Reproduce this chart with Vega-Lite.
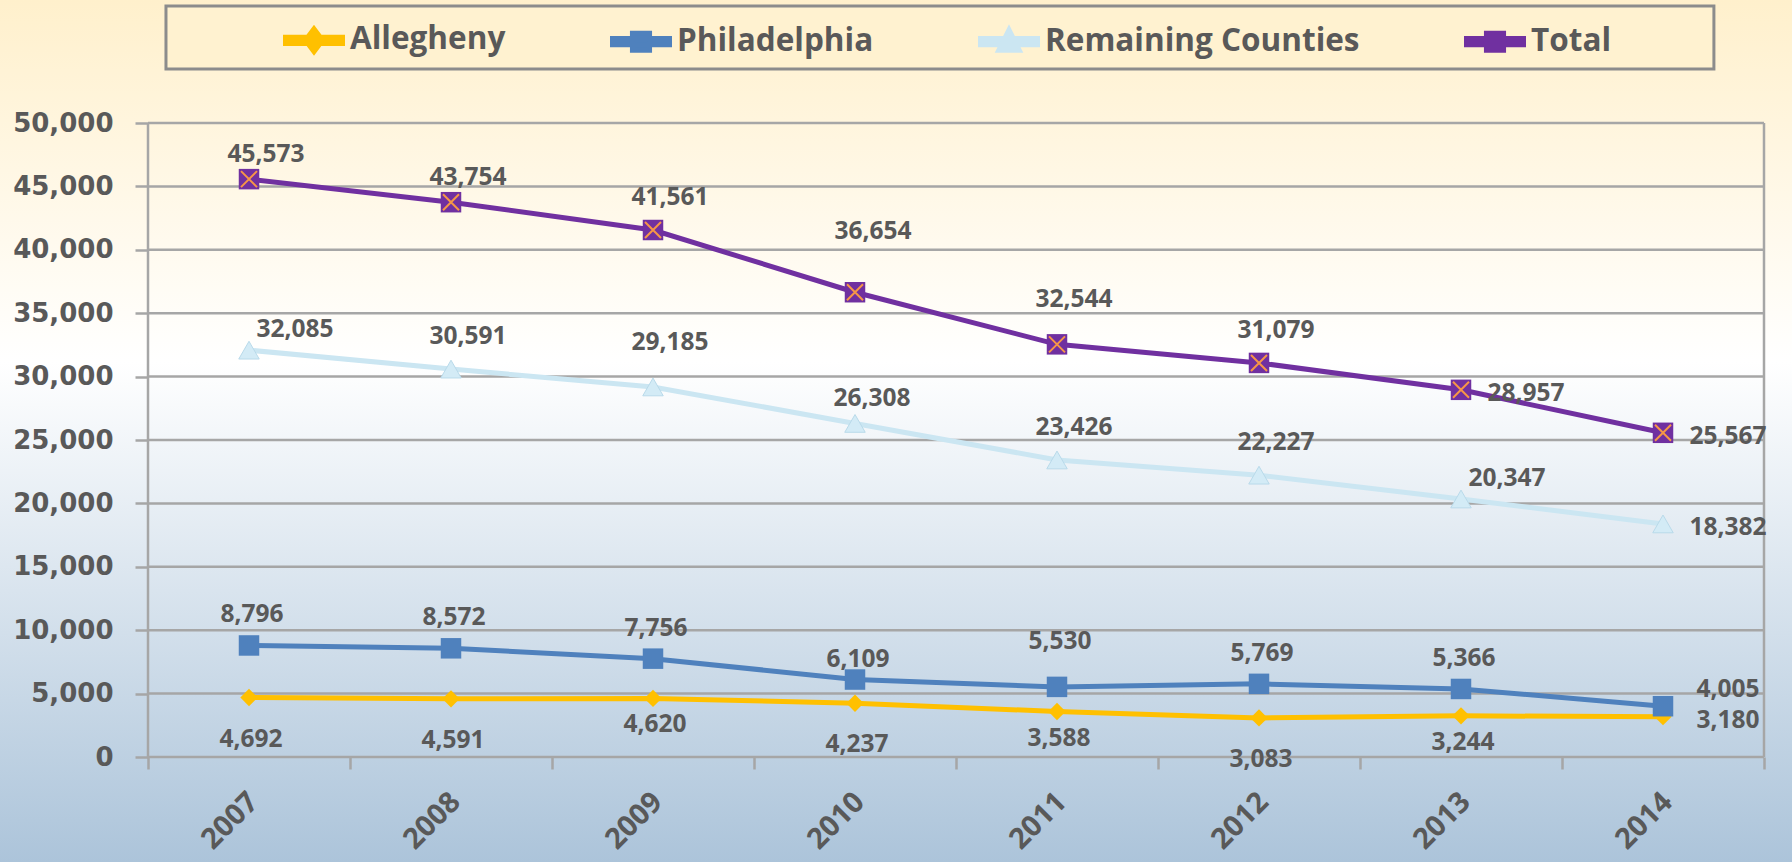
{
  "$schema": "https://vega.github.io/schema/vega-lite/v6.json",
  "width": 1616,
  "height": 634,
  "autosize": {"type": "none"},
  "padding": {"left": 148, "top": 123, "right": 28, "bottom": 105},
  "background": "#FFFFFF",
  "config": {
    "font": "Open Sans",
    "view": {"stroke": null}
  },
  "datasets": {
    "counts": [
      {"series": "Allegheny", "year": 2007, "value": 4692},
      {"series": "Allegheny", "year": 2008, "value": 4591},
      {"series": "Allegheny", "year": 2009, "value": 4620},
      {"series": "Allegheny", "year": 2010, "value": 4237},
      {"series": "Allegheny", "year": 2011, "value": 3588},
      {"series": "Allegheny", "year": 2012, "value": 3083},
      {"series": "Allegheny", "year": 2013, "value": 3244},
      {"series": "Allegheny", "year": 2014, "value": 3180},
      {"series": "Philadelphia", "year": 2007, "value": 8796},
      {"series": "Philadelphia", "year": 2008, "value": 8572},
      {"series": "Philadelphia", "year": 2009, "value": 7756},
      {"series": "Philadelphia", "year": 2010, "value": 6109},
      {"series": "Philadelphia", "year": 2011, "value": 5530},
      {"series": "Philadelphia", "year": 2012, "value": 5769},
      {"series": "Philadelphia", "year": 2013, "value": 5366},
      {"series": "Philadelphia", "year": 2014, "value": 4005},
      {"series": "Remaining Counties", "year": 2007, "value": 32085},
      {"series": "Remaining Counties", "year": 2008, "value": 30591},
      {"series": "Remaining Counties", "year": 2009, "value": 29185},
      {"series": "Remaining Counties", "year": 2010, "value": 26308},
      {"series": "Remaining Counties", "year": 2011, "value": 23426},
      {"series": "Remaining Counties", "year": 2012, "value": 22227},
      {"series": "Remaining Counties", "year": 2013, "value": 20347},
      {"series": "Remaining Counties", "year": 2014, "value": 18382},
      {"series": "Total", "year": 2007, "value": 45573},
      {"series": "Total", "year": 2008, "value": 43754},
      {"series": "Total", "year": 2009, "value": 41561},
      {"series": "Total", "year": 2010, "value": 36654},
      {"series": "Total", "year": 2011, "value": 32544},
      {"series": "Total", "year": 2012, "value": 31079},
      {"series": "Total", "year": 2013, "value": 28957},
      {"series": "Total", "year": 2014, "value": 25567}
    ],
    "gridlines": [
      {"g": 0}, {"g": 5000}, {"g": 10000}, {"g": 15000}, {"g": 20000}, {"g": 25000},
      {"g": 30000}, {"g": 35000}, {"g": 40000}, {"g": 45000}, {"g": 50000}
    ]
  },
  "layer": [
    {
      "data": {"values": [{}]},
      "mark": {
        "type": "rect",
        "fill": {
          "gradient": "linear", "x1": 0, "y1": 0, "x2": 0, "y2": 1,
          "stops": [
            {"offset": 0, "color": "#FFF0CC"},
            {"offset": 0.42, "color": "#FFFFFF"},
            {"offset": 1, "color": "#ACC4DA"}
          ]
        }
      },
      "encoding": {
        "x": {"datum": 2005.76, "type": "quantitative", "scale": {"domain": [2006.5, 2014.5], "nice": false, "zero": false}},
        "x2": {"datum": 2014.65},
        "y": {"datum": 59700, "type": "quantitative", "scale": {"domain": [0, 50000], "nice": false, "zero": true}},
        "y2": {"datum": -8281}
      }
    },
    {
      "data": {"values": [{}]},
      "mark": {"type": "rect", "fill": "#FFF2D0", "stroke": "#8C8C8C", "strokeWidth": 3},
      "encoding": {
        "x": {"datum": 2006.589, "type": "quantitative"},
        "x2": {"datum": 2014.252},
        "y": {"datum": 59227, "type": "quantitative"},
        "y2": {"datum": 54259}
      }
    },
    {
      "data": {"name": "gridlines"},
      "mark": {"type": "rule", "stroke": "#A6A6A6", "strokeWidth": 2.5},
      "encoding": {
        "x": {"datum": 2006.5, "type": "quantitative"},
        "x2": {"datum": 2014.5},
        "y": {"field": "g", "type": "quantitative"}
      }
    },
    {
      "data": {"values": [{}]},
      "mark": {"type": "rule", "stroke": "#A6A6A6", "strokeWidth": 2.5},
      "encoding": {
        "x": {"datum": 2014.5, "type": "quantitative"},
        "y": {"datum": 0, "type": "quantitative"},
        "y2": {"datum": 50000}
      }
    },
    {
      "data": {"values": [{}]},
      "mark": {"type": "rule", "stroke": "#A6A6A6", "strokeWidth": 2.5},
      "encoding": {
        "x": {"datum": 2006.5, "type": "quantitative"},
        "y": {"datum": 0, "type": "quantitative"},
        "y2": {"datum": 50000}
      }
    },
    {
      "data": {"name": "counts"},
      "mark": {"type": "line"},
      "encoding": {
        "x": {
          "field": "year", "type": "quantitative",
          "axis": {
            "zindex": 1,
            "values": [2006.5, 2007.5, 2008.5, 2009.5, 2010.5, 2011.5, 2012.5, 2013.5, 2014.5],
            "labelExpr": "datum.value > 2014 ? '' : toString(datum.value + 0.5)",
            "labelAngle": -45, "labelAlign": "right", "labelBaseline": "middle",
            "labelOffset": 105, "labelPadding": 28,
            "tickSize": 12, "tickColor": "#A6A6A6", "tickWidth": 2.5,
            "grid": false, "domain": false,
            "labelFont": "Open Sans", "labelFontWeight": "bold", "labelFontSize": 29, "labelColor": "#595959",
            "labelOverlap": false, "labelBound": false, "labelFlush": false,
            "title": null
          }
        },
        "y": {
          "field": "value", "type": "quantitative",
          "axis": {
            "zindex": 1,
            "values": [0, 5000, 10000, 15000, 20000, 25000, 30000, 35000, 40000, 45000, 50000],
            "format": ",d",
            "grid": false, "domain": false,
            "tickSize": 13, "tickColor": "#A6A6A6", "tickWidth": 2.5,
            "labelPadding": 22,
            "labelFont": "DejaVu Sans", "labelFontWeight": "bold", "labelFontSize": 26, "labelColor": "#595959",
            "labelOverlap": false, "labelFlush": false,
            "title": null
          }
        },
        "strokeWidth": {
          "field": "series", "type": "nominal", "legend": null,
          "scale": {"domain": ["Allegheny", "Philadelphia", "Remaining Counties", "Total"], "range": [5, 5, 6.5, 5]}
        },
        "color": {
          "field": "series", "type": "nominal",
          "scale": {"domain": ["Allegheny", "Philadelphia", "Remaining Counties", "Total"], "range": ["#FFC000", "#4F81BD", "#CBE6F2", "#7030A0"]},
          "legend": {
            "orient": "none", "legendX": 135, "legendY": -114,
            "direction": "horizontal", "columns": 4, "title": null, "padding": 0,
            "columnPadding": 96,
            "labelFont": "Open Sans", "labelFontWeight": "bold", "labelFontSize": 31.5, "labelColor": "#595959",
            "labelOffset": 5, "labelLimit": 500, "labelBaseline": "middle",
            "symbolSize": 3249,
            "encoding": {
              "symbols": {
                "shape": {"value": {"expr": "datum.value === 'Allegheny' ? 'M-1,-0.11H1V0.11H-1Z M0,-0.4L0.3,0L0,0.4L-0.3,0Z' : datum.value === 'Remaining Counties' ? 'M-1,-0.11H1V0.11H-1Z M0,-0.42L0.36,0.3L-0.36,0.3Z' : 'M-1,-0.11H1V0.11H-1Z M-0.3,-0.3H0.3V0.3H-0.3Z'"}},
                "fill": {"value": {"expr": "scale('color', datum.value)"}},
                "stroke": {"value": {"expr": "scale('color', datum.value)"}},
                "strokeWidth": {"value": 0.5},
                "opacity": {"value": 1},
                "fillOpacity": {"value": 1}
              }
            }
          }
        }
      }
    },
    {
      "data": {"name": "counts"},
      "transform": [{"filter": "datum.series === 'Allegheny'"}],
      "mark": {"type": "point", "shape": "diamond", "filled": true, "fill": "#FFC000", "size": 300, "opacity": 1},
      "encoding": {
        "x": {"field": "year", "type": "quantitative"},
        "y": {"field": "value", "type": "quantitative"}
      }
    },
    {
      "data": {"name": "counts"},
      "transform": [{"filter": "datum.series === 'Philadelphia'"}],
      "mark": {"type": "point", "shape": "square", "filled": true, "fill": "#4F81BD", "size": 420, "opacity": 1},
      "encoding": {
        "x": {"field": "year", "type": "quantitative"},
        "y": {"field": "value", "type": "quantitative"}
      }
    },
    {
      "data": {"name": "counts"},
      "transform": [{"filter": "datum.series === 'Remaining Counties'"}],
      "mark": {"type": "point", "shape": "triangle-up", "filled": true, "fill": "#D3EBF6", "stroke": "#B9DAEA", "strokeWidth": 1, "size": 420, "opacity": 1},
      "encoding": {
        "x": {"field": "year", "type": "quantitative"},
        "y": {"field": "value", "type": "quantitative"}
      }
    },
    {
      "data": {"name": "counts"},
      "transform": [{"filter": "datum.series === 'Total'"}],
      "mark": {"type": "point", "shape": "square", "filled": true, "fill": "#7030A0", "size": 420, "opacity": 1},
      "encoding": {
        "x": {"field": "year", "type": "quantitative"},
        "y": {"field": "value", "type": "quantitative"}
      }
    },
    {
      "data": {"name": "counts"},
      "transform": [{"filter": "datum.series === 'Total'"}],
      "mark": {"type": "point", "shape": "M-1,-1L1,1M1,-1L-1,1", "filled": false, "stroke": "#F79646", "strokeWidth": 2, "size": 256, "opacity": 1},
      "encoding": {
        "x": {"field": "year", "type": "quantitative"},
        "y": {"field": "value", "type": "quantitative"}
      }
    },
    {
      "data": {"name": "counts"},
      "transform": [{"filter": "indexof(['Total|2007','Total|2008','Remaining Counties|2010'], datum.series + '|' + datum.year) >= 0"}],
      "mark": {"type": "text", "font": "Open Sans", "fontWeight": "bold", "fontSize": 24.5, "fill": "#595959", "align": "center", "baseline": "middle", "dx": 17, "dy": -24},
      "encoding": {
        "x": {"field": "year", "type": "quantitative"},
        "y": {"field": "value", "type": "quantitative"},
        "text": {"field": "value", "type": "quantitative", "format": ",d"}
      }
    },
    {
      "data": {"name": "counts"},
      "transform": [{"filter": "indexof(['Total|2009','Total|2012','Remaining Counties|2008','Remaining Counties|2011','Remaining Counties|2012'], datum.series + '|' + datum.year) >= 0"}],
      "mark": {"type": "text", "font": "Open Sans", "fontWeight": "bold", "fontSize": 24.5, "fill": "#595959", "align": "center", "baseline": "middle", "dx": 17, "dy": -32},
      "encoding": {
        "x": {"field": "year", "type": "quantitative"},
        "y": {"field": "value", "type": "quantitative"},
        "text": {"field": "value", "type": "quantitative", "format": ",d"}
      }
    },
    {
      "data": {"name": "counts"},
      "transform": [{"filter": "indexof(['Total|2011','Remaining Counties|2009'], datum.series + '|' + datum.year) >= 0"}],
      "mark": {"type": "text", "font": "Open Sans", "fontWeight": "bold", "fontSize": 24.5, "fill": "#595959", "align": "center", "baseline": "middle", "dx": 17, "dy": -44},
      "encoding": {
        "x": {"field": "year", "type": "quantitative"},
        "y": {"field": "value", "type": "quantitative"},
        "text": {"field": "value", "type": "quantitative", "format": ",d"}
      }
    },
    {
      "data": {"name": "counts"},
      "transform": [{"filter": "datum.series === 'Total' && datum.year === 2010"}],
      "mark": {"type": "text", "font": "Open Sans", "fontWeight": "bold", "fontSize": 24.5, "fill": "#595959", "align": "center", "baseline": "middle", "dx": 18, "dy": -60},
      "encoding": {
        "x": {"field": "year", "type": "quantitative"},
        "y": {"field": "value", "type": "quantitative"},
        "text": {"field": "value", "type": "quantitative", "format": ",d"}
      }
    },
    {
      "data": {"name": "counts"},
      "transform": [{"filter": "indexof(['Philadelphia|2007','Philadelphia|2008','Philadelphia|2009','Philadelphia|2012','Philadelphia|2013'], datum.series + '|' + datum.year) >= 0"}],
      "mark": {"type": "text", "font": "Open Sans", "fontWeight": "bold", "fontSize": 24.5, "fill": "#595959", "align": "center", "baseline": "middle", "dx": 3, "dy": -30},
      "encoding": {
        "x": {"field": "year", "type": "quantitative"},
        "y": {"field": "value", "type": "quantitative"},
        "text": {"field": "value", "type": "quantitative", "format": ",d"}
      }
    },
    {
      "data": {"name": "counts"},
      "transform": [{"filter": "datum.series === 'Philadelphia' && datum.year === 2010"}],
      "mark": {"type": "text", "font": "Open Sans", "fontWeight": "bold", "fontSize": 24.5, "fill": "#595959", "align": "center", "baseline": "middle", "dx": 3, "dy": -20},
      "encoding": {
        "x": {"field": "year", "type": "quantitative"},
        "y": {"field": "value", "type": "quantitative"},
        "text": {"field": "value", "type": "quantitative", "format": ",d"}
      }
    },
    {
      "data": {"name": "counts"},
      "transform": [{"filter": "datum.series === 'Philadelphia' && datum.year === 2011"}],
      "mark": {"type": "text", "font": "Open Sans", "fontWeight": "bold", "fontSize": 24.5, "fill": "#595959", "align": "center", "baseline": "middle", "dx": 3, "dy": -45},
      "encoding": {
        "x": {"field": "year", "type": "quantitative"},
        "y": {"field": "value", "type": "quantitative"},
        "text": {"field": "value", "type": "quantitative", "format": ",d"}
      }
    },
    {
      "data": {"name": "counts"},
      "transform": [{"filter": "indexof(['Total|2013','Total|2014','Remaining Counties|2014','Allegheny|2014'], datum.series + '|' + datum.year) >= 0"}],
      "mark": {"type": "text", "font": "Open Sans", "fontWeight": "bold", "fontSize": 24.5, "fill": "#595959", "align": "center", "baseline": "middle", "dx": 65, "dy": 4},
      "encoding": {
        "x": {"field": "year", "type": "quantitative"},
        "y": {"field": "value", "type": "quantitative"},
        "text": {"field": "value", "type": "quantitative", "format": ",d"}
      }
    },
    {
      "data": {"name": "counts"},
      "transform": [{"filter": "datum.series === 'Philadelphia' && datum.year === 2014"}],
      "mark": {"type": "text", "font": "Open Sans", "fontWeight": "bold", "fontSize": 24.5, "fill": "#595959", "align": "center", "baseline": "middle", "dx": 65, "dy": -16},
      "encoding": {
        "x": {"field": "year", "type": "quantitative"},
        "y": {"field": "value", "type": "quantitative"},
        "text": {"field": "value", "type": "quantitative", "format": ",d"}
      }
    },
    {
      "data": {"name": "counts"},
      "transform": [{"filter": "indexof(['Remaining Counties|2007','Remaining Counties|2013'], datum.series + '|' + datum.year) >= 0"}],
      "mark": {"type": "text", "font": "Open Sans", "fontWeight": "bold", "fontSize": 24.5, "fill": "#595959", "align": "center", "baseline": "middle", "dx": 46, "dy": -20},
      "encoding": {
        "x": {"field": "year", "type": "quantitative"},
        "y": {"field": "value", "type": "quantitative"},
        "text": {"field": "value", "type": "quantitative", "format": ",d"}
      }
    },
    {
      "data": {"name": "counts"},
      "transform": [{"filter": "indexof(['Allegheny|2007','Allegheny|2008','Allegheny|2010','Allegheny|2012'], datum.series + '|' + datum.year) >= 0"}],
      "mark": {"type": "text", "font": "Open Sans", "fontWeight": "bold", "fontSize": 24.5, "fill": "#595959", "align": "center", "baseline": "middle", "dx": 2, "dy": 42},
      "encoding": {
        "x": {"field": "year", "type": "quantitative"},
        "y": {"field": "value", "type": "quantitative"},
        "text": {"field": "value", "type": "quantitative", "format": ",d"}
      }
    },
    {
      "data": {"name": "counts"},
      "transform": [{"filter": "indexof(['Allegheny|2009','Allegheny|2011','Allegheny|2013'], datum.series + '|' + datum.year) >= 0"}],
      "mark": {"type": "text", "font": "Open Sans", "fontWeight": "bold", "fontSize": 24.5, "fill": "#595959", "align": "center", "baseline": "middle", "dx": 2, "dy": 27},
      "encoding": {
        "x": {"field": "year", "type": "quantitative"},
        "y": {"field": "value", "type": "quantitative"},
        "text": {"field": "value", "type": "quantitative", "format": ",d"}
      }
    }
  ]
}
